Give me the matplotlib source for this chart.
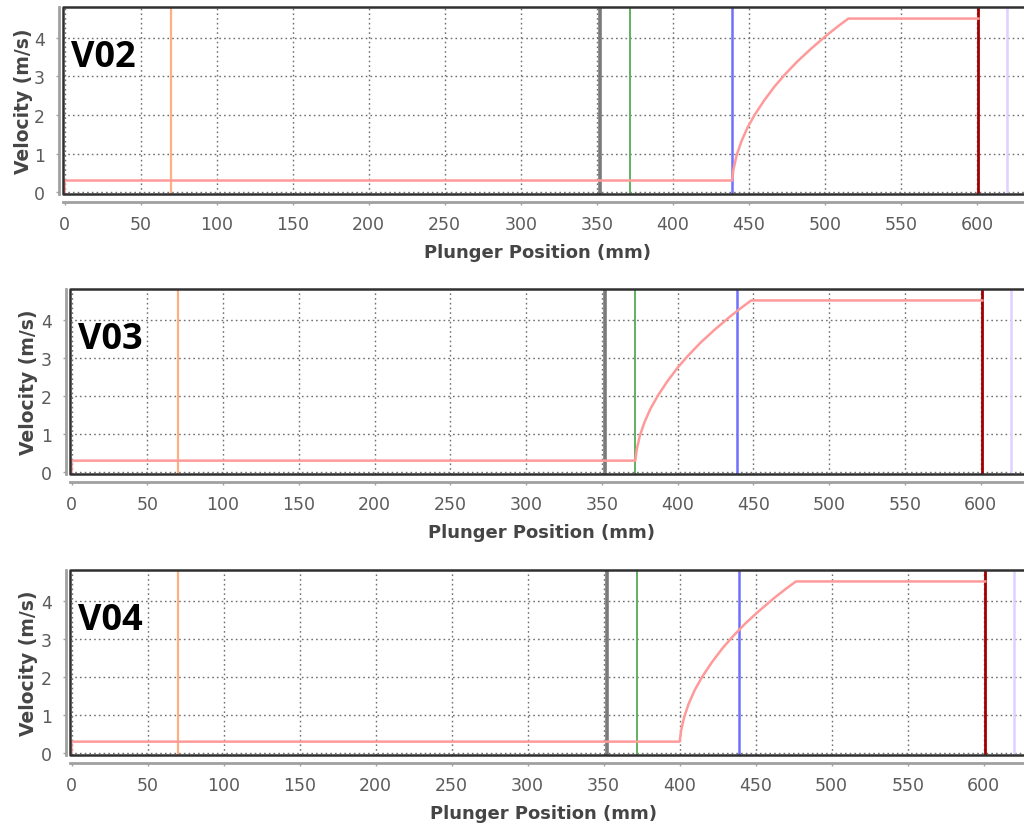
"""
Velocity vs plunger position for three shot profiles (V02, V03, V04)
"""

import matplotlib
matplotlib.use('Agg')
import matplotlib.pyplot as plt
from matplotlib.lines import Line2D

# Profile names
panel_names = ['V02', 'V03', 'V04']

# Velocity curves (mm, m/s)
v02_pos = [0, 0, 439, 440, 442, 445, 449, 454, 460, 467, 474, 482, 491, 501, 509, 515.5, 601]
v02_vel = [0, 0.30, 0.30, 0.60, 0.95, 1.30, 1.66, 2.01, 2.37, 2.74, 3.06, 3.39, 3.72, 4.06, 4.31, 4.50, 4.50]

v03_pos = [0, 0, 372, 373, 375, 378, 382, 387, 393, 400, 407, 415, 424, 434, 442, 448.5, 601]
v03_vel = [0, 0.30, 0.30, 0.60, 0.95, 1.30, 1.66, 2.01, 2.37, 2.74, 3.06, 3.39, 3.72, 4.06, 4.31, 4.50, 4.50]

v04_pos = [0, 0, 400, 401, 403, 406, 410, 415, 421, 428, 435, 443, 452, 462, 470, 476.5, 601]
v04_vel = [0, 0.30, 0.30, 0.60, 0.95, 1.30, 1.66, 2.01, 2.37, 2.74, 3.06, 3.39, 3.72, 4.06, 4.31, 4.50, 4.50]

# Marker positions (mm), same on every panel
marker_pos = [70, 352, 372, 439, 601, 620]
marker_colors = ['#ffb080', '#7a7a7a', '#60b060', '#7070ff', '#a00000', '#e0d0ff']
marker_widths = [1.6, 2.6, 1.4, 1.8, 2.0, 1.8]

x_ticks = list(range(0, 601, 50))
y_ticks = [0, 1, 2, 3, 4]

# axes boxes in pixels: left, top, bottom (figure is 1024 x 829)
W, H = 1024, 829
boxes = [(63, 8, 195), (70, 290, 475), (70, 571, 756)]
x_max = [631, 628.5, 626.5]
xlabel_cx = [537, 541, 544]
ylabel_right = [33, 38, 38]

curves = [(v02_pos, v02_vel), (v03_pos, v03_vel), (v04_pos, v04_vel)]

fig = plt.figure(figsize=(W / 100, H / 100), dpi=100)
fig.patch.set_facecolor('white')

tick_col = '#5c5c5c'
label_col = '#454545'

for i, name in enumerate(panel_names):
    left, top, bottom = boxes[i]
    ax = fig.add_axes([left / W, (H - bottom) / H, (W - left) / W, (bottom - top) / H])

    ax.set_xlim(-1, x_max[i])
    ax.set_ylim(-0.05, 4.8)
    ax.set_xticks(x_ticks)
    ax.set_yticks(y_ticks)
    ax.set_axisbelow(True)
    ax.grid(True, linestyle=(0, (1.2, 2.2)), color='#707070', linewidth=1.0)

    for xv, c, lw in zip(marker_pos, marker_colors, marker_widths):
        ax.axvline(xv, color=c, linewidth=lw, zorder=2)

    px, pv = curves[i]
    ax.plot(px, pv, color='#ff9a9a', linewidth=1.8, zorder=3)

    # plot frame (the right side is cut off by the image edge)
    frame = Line2D([1.05, 0, 0, 1.05], [1, 1, 0, 0], transform=ax.transAxes,
                   color='#303030', linewidth=1.8, clip_on=False, zorder=5)
    ax.add_line(frame)

    # offset axis lines, JFreeChart style
    for side in ['top', 'right']:
        ax.spines[side].set_visible(False)
    ax.spines['left'].set_position(('outward', 3))
    ax.spines['bottom'].set_position(('outward', 6))
    for side in ['left', 'bottom']:
        ax.spines[side].set_color('#a0a0a0')
        ax.spines[side].set_linewidth(2.0)

    ax.tick_params(axis='both', colors='#a0a0a0', length=2, width=1,
                   labelcolor=tick_col, labelsize=12.5)
    ax.tick_params(axis='y', pad=8)
    ax.tick_params(axis='x', pad=7)

    ax.set_xlabel('Plunger Position (mm)', fontsize=13, fontweight='bold', color=label_col)
    ax.set_ylabel('Velocity (m/s)', fontsize=13.5, fontweight='bold', color=label_col)
    axw = W - left
    axh = bottom - top
    ax.xaxis.set_label_coords((xlabel_cx[i] - left) / axw, -49 / axh)
    ax.yaxis.set_label_coords((ylabel_right[i] - left) / axw, 0.5)

    ax.text(4, 3.5, name, fontsize=26, fontweight='bold', color='black',
            family=['Open Sans', 'DejaVu Sans'], va='center', ha='left', zorder=6)

fig.savefig('out.png', dpi=100, facecolor='white')
